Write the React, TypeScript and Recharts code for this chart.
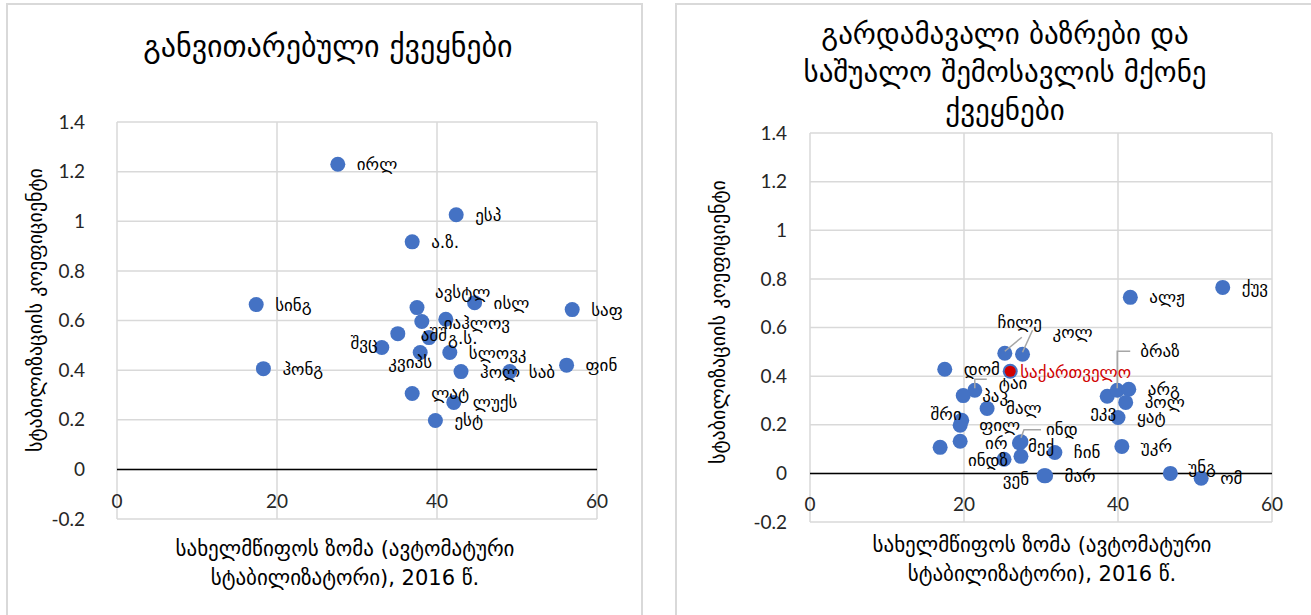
import React from "react";
import {
  ScatterChart,
  Scatter,
  XAxis,
  YAxis,
  CartesianGrid,
  ReferenceLine,
} from "recharts";

// developed countries
const devNames = [
  "ირლ", "ესპ", "ა.ზ.", "სინგ", "ავსტლ", "ისლ", "საფ", "", "იაჰლოვ", "აშშ",
  "გ.ს.", "შვც", "კვიპს", "სლოვკ", "ჰონგ", "ჰოლ", "საბ", "ფინ", "ლატ", "ლუქს", "ესტ",
];
const devSize = [
  27.6, 42.4, 36.9, 17.4, 37.5, 44.7, 56.9, 38.1, 41.1, 35.1,
  39.0, 33.1, 37.9, 41.6, 18.3, 43.0, 49.1, 56.2, 36.9, 42.1, 39.8,
];
const devCoef = [
  1.23, 1.026, 0.917, 0.664, 0.652, 0.672, 0.644, 0.596, 0.605, 0.547,
  0.531, 0.491, 0.471, 0.471, 0.406, 0.394, 0.394, 0.42, 0.306, 0.27, 0.197,
];

// emerging / middle income
const emNames = [
  "ქუვ", "ალჟ", "ჩილე", "კოლ", "დომ", "", "ტაი", "პაკ", "მალ", "შრი",
  "ფილ", "", "", "ინდ", "ირ", "მექ", "ინდზ", "ჩინ", "ვენ", "მარ",
  "ეკვ", "ბრაზ", "არგ", "პოლ", "ყატ", "უკრ", "უნგ", "ომ",
];
const emSize = [
  53.6, 41.6, 25.3, 27.6, 17.5, 26.0, 21.4, 19.9, 23.0, 19.7,
  19.5, 16.9, 19.5, 27.4, 27.2, 27.4, 25.2, 31.8, 30.4, 30.6,
  38.6, 39.9, 41.4, 41.0, 40.0, 40.5, 46.8, 50.8,
];
const emCoef = [
  0.765, 0.724, 0.494, 0.49, 0.428, 0.42, 0.342, 0.32, 0.267, 0.218,
  0.198, 0.107, 0.132, 0.13, 0.125, 0.07, 0.058, 0.086, -0.01, -0.01,
  0.317, 0.342, 0.346, 0.292, 0.23, 0.111, 0.0, -0.02,
];

const georgiaName = ["საქართველო"];
const georgiaSize = [26.0];
const georgiaCoef = [0.42];

const xTicks = [0, 20, 40, 60];
const yTicks = [-0.2, 0, 0.2, 0.4, 0.6, 0.8, 1, 1.2, 1.4];

const titleLeft = ["განვითარებული ქვეყნები"];
const titleRight = ["გარდამავალი ბაზრები და", "საშუალო შემოსავლის მქონე", "ქვეყნები"];
const xTitle = ["სახელმწიფოს ზომა (ავტომატური", "სტაბილიზატორი), 2016 წ."];
const yTitle = "სტაბილიზაციის კოეფიციენტი";

const build = (names: string[], xs: number[], ys: number[]) =>
  names.map((name, i) => ({ name, x: xs[i], y: ys[i] }));

const devData = build(devNames, devSize, devCoef);
const emData = build(emNames, emSize, emCoef);
const geoData = build(georgiaName, georgiaSize, georgiaCoef);

type Nudge = { dx: number; dy: number; anchor?: string };

// label placement (pixels relative to point)
const devNudge: Record<string, Nudge> = {
  "ავსტლ": { dx: 18, dy: -16 },
  "იაჰლოვ": { dx: -2, dy: 4 },
  "აშშ": { dx: 23, dy: 1 },
  "შვც": { dx: -4, dy: -5, anchor: "end" },
  "კვიპს": { dx: -10, dy: 9, anchor: "middle" },
};

const emNudge: Record<string, Nudge> = {
  "ჩილე": { dx: 15, dy: -31, anchor: "middle" },
  "კოლ": { dx: 30, dy: -22 },
  "საქართველო": { dx: 10, dy: 1 },
  "ტაი": { dx: 24, dy: -7 },
  "შრი": { dx: 0, dy: -6, anchor: "end" },
  "ინდ": { dx: 25, dy: -13 },
  "ირ": { dx: -12, dy: 0, anchor: "end" },
  "მექ": { dx: 7, dy: -10 },
  "ინდზ": { dx: 4, dy: 1, anchor: "end" },
  "ვენ": { dx: -15, dy: 3, anchor: "end" },
  "ეკვ": { dx: 9, dy: 15, anchor: "end" },
  "ბრაზ": { dx: 23, dy: -39 },
  "უნგ": { dx: 18, dy: -6 },
};

const emLeaders: Record<string, number[]> = {
  "ჩილე": [0, -2, 17, -16],
  "კოლ": [0, -2, 10, -24],
  "ტაი": [0, -2, 0, -11, 12, -11],
  "ინდ": [0, -4, 3, -12, 20, -12],
  "ბრაზ": [0, -2, 0, -39, 13, -39],
};

const BLUE = "#4472C4";
const RED = "#D00000";
const GRID = "#D9D9D9";
const GEO_FONT = "'DejaVu Sans', sans-serif";
const NUM_FONT = "Lato, 'Open Sans', sans-serif";

const Dot = (p: any) => <circle cx={p.cx} cy={p.cy} r={7.5} fill={BLUE} />;
const RedDot = (p: any) => <circle cx={p.cx} cy={p.cy} r={5.5} fill={RED} />;

const makeLabel =
  (nudges: Record<string, Nudge>, leaders: Record<string, number[]>, color: string) =>
  (p: any) => {
    const name: string = p.payload?.name ?? "";
    if (!name) return <g />;
    const n = nudges[name] ?? { dx: 19, dy: 0 };
    const lead = leaders[name];
    let pts = "";
    if (lead) {
      const arr: string[] = [];
      for (let i = 0; i < lead.length; i += 2) arr.push(`${p.cx + lead[i]},${p.cy + lead[i + 1]}`);
      pts = arr.join(" ");
    }
    return (
      <g>
        {lead && <polyline points={pts} fill="none" stroke="#A6A6A6" strokeWidth={1.5} />}
        <text
          x={p.cx + n.dx}
          y={p.cy + n.dy}
          textAnchor={n.anchor ?? "start"}
          dominantBaseline="central"
          fontSize={17}
          fontFamily={GEO_FONT}
          fill={color}
        >
          {name}
        </text>
      </g>
    );
  };

const XTick = (p: any) => (
  <text
    x={p.x}
    y={p.y - 27}
    textAnchor="middle"
    dominantBaseline="central"
    fontSize={19}
    fontFamily={NUM_FONT}
    fill="#262626"
  >
    {p.payload.value}
  </text>
);

type PanelProps = {
  left: number;
  width: number;
  margin: { top: number; right: number; left: number; bottom: number };
  tickMargin: number;
  children: React.ReactNode;
};

function Panel({ left, width, margin, tickMargin, children }: PanelProps) {
  return (
    <div style={{ position: "absolute", left, top: 0 }}>
      <ScatterChart width={width} height={615} margin={margin}>
        <CartesianGrid stroke={GRID} strokeWidth={1.5} />
        <XAxis
          type="number"
          dataKey="x"
          domain={[0, 60]}
          ticks={xTicks}
          height={30}
          axisLine={false}
          tickLine={false}
          tick={<XTick />}
          interval={0}
        />
        <YAxis
          type="number"
          dataKey="y"
          domain={[-0.2, 1.4]}
          ticks={yTicks}
          width={60}
          axisLine={false}
          tickLine={false}
          tickMargin={tickMargin}
          interval={0}
          tick={{ fontSize: 19, fontFamily: NUM_FONT, fill: "#262626" }}
          tickFormatter={(v: number) => String(v)}
        />
        <ReferenceLine y={0} stroke="#000" strokeWidth={1.5} />
        {children}
      </ScatterChart>
    </div>
  );
}

const textBlock = (
  lines: string[],
  cx: number,
  top: number,
  size: number,
  lh: number
) => (
  <div
    style={{
      position: "absolute",
      left: cx - 320,
      top,
      width: 640,
      textAlign: "center",
      fontFamily: GEO_FONT,
      fontSize: size,
      lineHeight: `${lh}px`,
      color: "#000",
      whiteSpace: "nowrap",
    }}
  >
    {lines.map((l, i) => (
      <div key={i}>{l}</div>
    ))}
  </div>
);

const yLabel = (cx: number, cy: number) => (
  <div
    style={{
      position: "absolute",
      left: cx - 250,
      top: cy - 12,
      width: 500,
      height: 24,
      lineHeight: "24px",
      textAlign: "center",
      transform: "rotate(-90deg)",
      fontFamily: GEO_FONT,
      fontSize: 20,
      color: "#000",
      whiteSpace: "nowrap",
    }}
  >
    {yTitle}
  </div>
);

export default function App() {
  return (
    <div
      style={{
        position: "fixed",
        left: 0,
        top: 0,
        width: 1311,
        height: 615,
        background: "#fff",
        overflow: "hidden",
      }}
    >
      <div style={{ position: "absolute", left: 6, top: 3, width: 633, height: 630, border: `2px solid ${GRID}` }} />
      <div style={{ position: "absolute", left: 675, top: 3, width: 650, height: 630, border: `2px solid ${GRID}` }} />

      <Panel left={0} width={641} margin={{ top: 122, right: 44, left: 57, bottom: 66 }} tickMargin={26}>
        <Scatter data={devData} shape={Dot} isAnimationActive={false} />
        <Scatter data={devData} shape={makeLabel(devNudge, {}, "#000")} isAnimationActive={false} />
      </Panel>

      <Panel left={676} width={635} margin={{ top: 133, right: 39, left: 74, bottom: 63 }} tickMargin={17}>
        <Scatter data={emData} shape={Dot} isAnimationActive={false} />
        <Scatter data={geoData} shape={RedDot} isAnimationActive={false} />
        <Scatter data={emData} shape={makeLabel(emNudge, emLeaders, "#000")} isAnimationActive={false} />
        <Scatter data={geoData} shape={makeLabel(emNudge, {}, RED)} isAnimationActive={false} />
      </Panel>

      {textBlock(titleLeft, 328, 27, 30, 40)}
      {textBlock(titleRight, 1005, 15, 29, 38)}
      {textBlock(xTitle, 345, 535, 21, 29)}
      {textBlock(xTitle, 1042, 531, 21, 29)}
      {yLabel(35, 310)}
      {yLabel(718, 322)}
    </div>
  );
}
